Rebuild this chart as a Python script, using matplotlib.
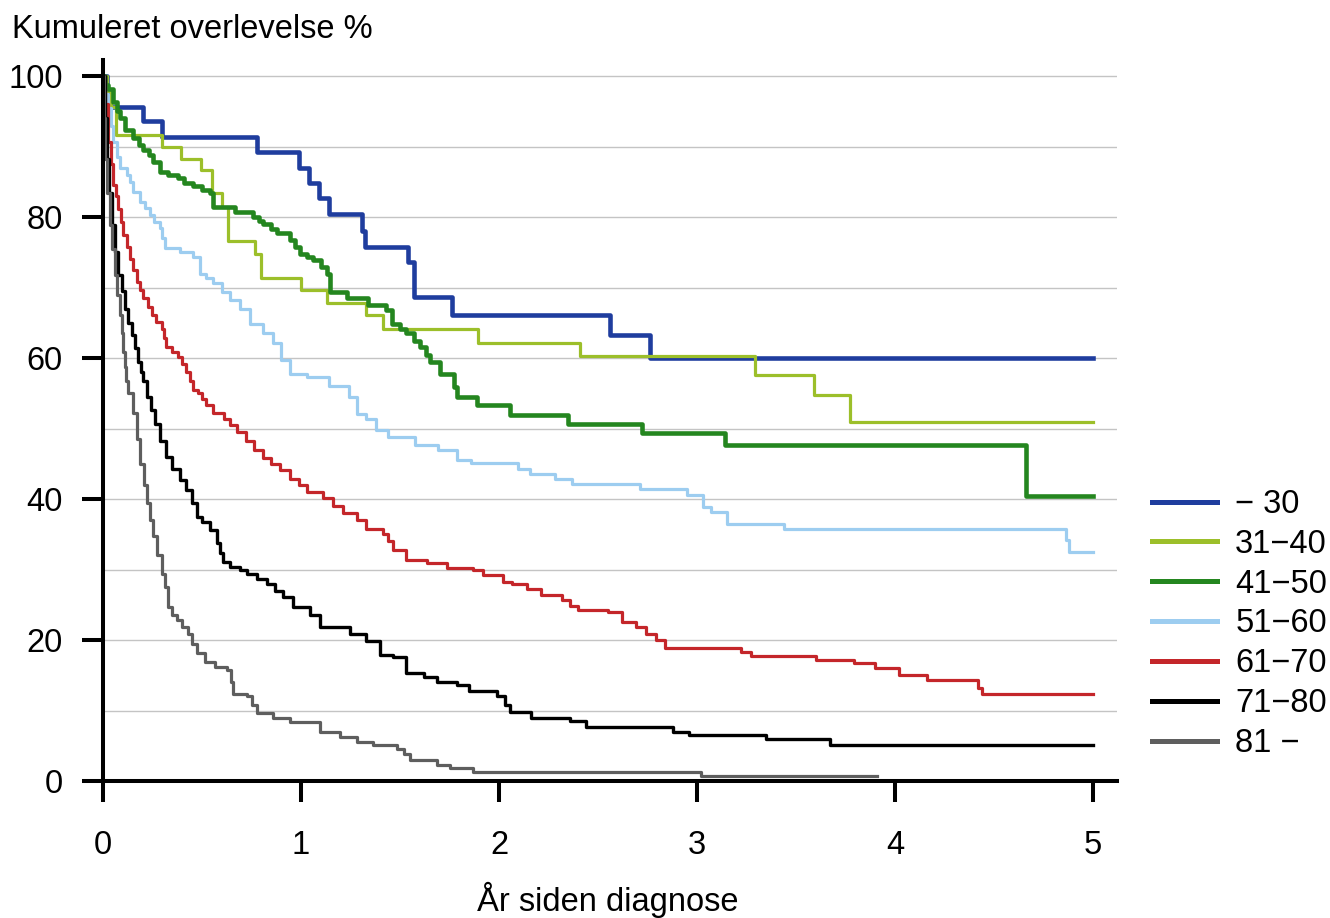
import matplotlib
matplotlib.use("Agg")
import matplotlib.pyplot as plt

plt.rcParams['font.family'] = ['Liberation Sans', 'DejaVu Sans']

# aldersgrupper og farver
labels = ["\u2212 30", "31\u221240", "41\u221250", "51\u221260", "61\u221270", "71\u221280", "81 \u2212"]
colors = ["#1f3d9e", "#9cbf2a", "#24861f", "#9dcdf0", "#c4262a", "#000000", "#5e5e5e"]
widths = [3.3, 2.3, 3.3, 2.3, 2.3, 2.4, 2.3]

# aflaest fra figuren: tid (aar) og kumuleret overlevelse (%)
t_30 = [0, 0.02, 0.20, 0.30, 0.78, 0.99, 1.04, 1.09, 1.14, 1.31, 1.325, 1.54, 1.57, 1.76, 2.56, 2.76, 5.0]
s_30 = [100, 95.7, 93.7, 91.4, 89.3, 87.0, 84.9, 82.7, 80.4, 78.1, 75.8, 73.7, 68.7, 66.1, 63.3, 60.0, 60.0]

t_40 = [0, 0.02, 0.04, 0.065, 0.296, 0.395, 0.497, 0.549, 0.60, 0.63, 0.768, 0.80, 0.998, 1.13, 1.33,
        1.415, 1.895, 2.41, 3.29, 3.59, 3.77, 5.0]
s_40 = [100, 97.9, 95.7, 91.6, 90.0, 88.3, 86.7, 83.4, 81.4, 76.6, 74.8, 71.3, 69.6, 67.8, 66.1,
        64.2, 62.2, 60.3, 57.6, 54.7, 51.0, 51.0]

t_50 = [0, 0.01, 0.027, 0.052, 0.07, 0.086, 0.111, 0.153, 0.18, 0.204, 0.23, 0.254, 0.288, 0.33, 0.38,
        0.41, 0.456, 0.5, 0.54, 0.557, 0.667, 0.759, 0.79, 0.81, 0.85, 0.877, 0.944, 0.97, 0.995,
        1.03, 1.062, 1.1, 1.13, 1.146, 1.23, 1.34, 1.43, 1.458, 1.5, 1.53, 1.57, 1.60, 1.63, 1.65,
        1.70, 1.77, 1.786, 1.887, 2.055, 2.35, 2.72, 3.14, 4.66, 5.0]
s_50 = [100, 98.8, 98.2, 96.3, 95.0, 94.0, 92.4, 91.2, 90.3, 89.5, 88.8, 87.8, 86.4, 86.0, 85.5,
        84.9, 84.4, 83.9, 83.4, 81.5, 80.8, 80.0, 79.5, 79.1, 78.3, 77.7, 76.7, 75.8, 74.8,
        74.4, 73.9, 73.0, 72.0, 69.4, 68.5, 67.5, 66.8, 64.9, 64.2, 63.5, 62.5, 61.6, 60.5, 59.5,
        57.7, 55.9, 54.5, 53.3, 51.9, 50.6, 49.4, 47.7, 40.4, 40.4]

t_60 = [0, 0.01, 0.027, 0.04, 0.052, 0.07, 0.086, 0.12, 0.136, 0.153, 0.187, 0.21, 0.237, 0.26,
        0.288, 0.30, 0.313, 0.389, 0.456, 0.49, 0.52, 0.557, 0.6, 0.64, 0.69, 0.74, 0.81, 0.86, 0.9,
        0.944, 1.03, 1.14, 1.24, 1.28, 1.33, 1.38, 1.44, 1.576, 1.69, 1.786, 1.86, 2.095, 2.154,
        2.28, 2.37, 2.71, 2.95, 3.03, 3.07, 3.15, 3.44, 4.86, 4.88, 5.0]
s_60 = [100, 97.5, 95.5, 93.0, 90.7, 88.5, 87.0, 86.0, 85.0, 83.6, 82.2, 81.3, 80.3, 79.3,
        78.4, 77.0, 75.6, 75.1, 74.4, 72.0, 71.4, 70.6, 69.4, 68.2, 67.0, 64.9, 63.5, 62.1, 59.7,
        57.8, 57.3, 56.0, 54.5, 52.1, 51.4, 49.8, 48.8, 47.7, 46.9, 45.5, 45.1, 44.3, 43.6,
        42.8, 42.1, 41.4, 40.6, 38.9, 38.2, 36.5, 35.7, 34.2, 32.5, 32.5]

t_70 = [0, 0.01, 0.027, 0.04, 0.052, 0.065, 0.077, 0.09, 0.103, 0.12, 0.136, 0.153, 0.17, 0.187,
        0.204, 0.225, 0.246, 0.27, 0.296, 0.31, 0.32, 0.35, 0.38, 0.40, 0.42, 0.44, 0.456, 0.48,
        0.5, 0.52, 0.557, 0.61, 0.64, 0.675, 0.72, 0.76, 0.81, 0.85, 0.894, 0.944, 0.99, 1.03,
        1.11, 1.16, 1.21, 1.28, 1.33, 1.416, 1.44, 1.466, 1.53, 1.635, 1.736, 1.87, 1.92, 2.02,
        2.065, 2.14, 2.21, 2.32, 2.36, 2.40, 2.55, 2.62, 2.69, 2.74, 2.79, 2.84, 3.22, 3.27, 3.6,
        3.79, 3.90, 4.02, 4.16, 4.42, 4.44, 5.0]
s_70 = [100, 96.0, 90.7, 87.5, 84.5, 83.0, 81.2, 79.3, 77.4, 75.8, 74.1, 72.5, 70.8, 69.6,
        68.5, 67.3, 66.1, 65.1, 64.2, 62.9, 61.6, 60.9, 60.2, 59.1, 58.0, 56.7, 55.5, 55.0,
        54.2, 53.3, 52.2, 51.4, 50.5, 49.5, 48.2, 46.9, 45.8, 45.0, 44.1, 42.9, 42.0, 41.0,
        40.1, 39.0, 38.0, 37.0, 35.8, 35.1, 34.0, 32.8, 31.3, 30.9, 30.2, 29.9, 29.2, 28.3,
        28.0, 27.3, 26.4, 25.7, 24.8, 24.3, 24.0, 22.6, 21.9, 20.9, 20.0, 18.8, 18.3, 17.7, 17.2,
        16.7, 16.1, 15.0, 14.4, 13.2, 12.4, 12.4]

t_80 = [0, 0.008, 0.019, 0.03, 0.044, 0.06, 0.077, 0.094, 0.111, 0.128, 0.145, 0.16, 0.178, 0.19,
        0.204, 0.22, 0.24, 0.263, 0.29, 0.32, 0.35, 0.389, 0.42, 0.448, 0.473, 0.5, 0.54, 0.574,
        0.59, 0.608, 0.64, 0.69, 0.726, 0.78, 0.827, 0.87, 0.91, 0.96, 1.045, 1.096, 1.247, 1.33,
        1.40, 1.466, 1.53, 1.62, 1.685, 1.786, 1.85, 1.99, 2.03, 2.056, 2.16, 2.36, 2.44, 2.88,
        2.96, 3.35, 3.67, 5.0]
s_80 = [100, 94.0, 88.3, 83.5, 78.9, 75.0, 71.8, 69.5, 67.0, 65.0, 63.3, 61.5, 59.5, 58.0,
        56.7, 54.5, 52.6, 50.7, 48.3, 46.0, 44.3, 42.7, 41.3, 39.4, 37.5, 36.8, 35.6, 33.7,
        32.3, 31.1, 30.4, 29.9, 29.4, 28.7, 28.0, 27.0, 26.1, 24.7, 23.5, 21.9, 20.9, 19.8,
        17.9, 17.6, 15.3, 14.8, 14.1, 13.6, 12.7, 12.0, 10.8, 9.8, 9.0, 8.5, 7.7, 7.0,
        6.5, 5.9, 5.1, 5.1]

t_81 = [0, 0.005, 0.01, 0.02, 0.035, 0.047, 0.06, 0.073, 0.086, 0.095, 0.103, 0.11, 0.116, 0.128,
        0.153, 0.17, 0.187, 0.205, 0.22, 0.237, 0.254, 0.275, 0.296, 0.313, 0.33, 0.35, 0.372,
        0.40, 0.43, 0.45, 0.473, 0.515, 0.566, 0.625, 0.645, 0.658, 0.726, 0.75, 0.776, 0.86,
        0.944, 1.096, 1.197, 1.28, 1.365, 1.483, 1.52, 1.55, 1.685, 1.75, 1.87, 3.02, 3.91]
s_81 = [100, 94.0, 88.3, 83.5, 78.9, 75.5, 71.8, 69.0, 66.1, 63.5, 60.9, 58.8, 56.7, 55.0,
        52.2, 48.5, 45.0, 42.0, 39.4, 37.0, 34.7, 32.0, 29.4, 27.5, 24.7, 23.6, 22.8,
        21.8, 20.9, 19.5, 18.1, 16.9, 16.2, 15.7, 14.0, 12.4, 12.0, 10.8, 9.6, 8.9,
        8.4, 7.0, 6.3, 5.6, 5.1, 4.6, 3.8, 3.0, 2.3, 1.8, 1.3, 0.7, 0.7]

tider = [t_30, t_40, t_50, t_60, t_70, t_80, t_81]
overlevelse = [s_30, s_40, s_50, s_60, s_70, s_80, s_81]

fs = 23.5

fig = plt.figure(figsize=(13.3, 9.18), dpi=100)
ax = fig.add_axes([103/1330, 1-781/918, (1117-103)/1330, (781-60)/918])

for t, s, c, lw, lab in zip(tider, overlevelse, colors, widths, labels):
    ax.step(t, s, where='post', color=c, lw=lw, label=lab)

ax.set_xlim(0, 5.12)
ax.set_ylim(0, 102.3)
ax.set_xticks(range(0, 6))
ax.set_yticks(range(0, 101, 20))
ax.set_yticks(range(10, 101, 10), minor=True)
ax.grid(axis='y', which='both', color='#c4c4c4', lw=1.0)
ax.set_axisbelow(True)

for side in ['top', 'right']:
    ax.spines[side].set_visible(False)
for side in ['left', 'bottom']:
    ax.spines[side].set_linewidth(2.9)
ax.tick_params(which='major', direction='out', length=15, width=2.9, labelsize=fs)
ax.tick_params(axis='y', which='major', pad=14)
ax.tick_params(axis='x', which='major', pad=20)
ax.tick_params(which='minor', length=0)

fig.text(12/1330, 1-30/918, "Kumuleret overlevelse %", fontsize=fs, ha='left', va='center')
fig.text(608/1330, 1-900/918, "\u00c5r siden diagnose", fontsize=fs, ha='center', va='center')

leg = fig.legend(loc='center left', bbox_to_anchor=(1152/1330, 1-624/918), frameon=False,
                 fontsize=fs, handlelength=2.0, handletextpad=0.55, labelspacing=0.27,
                 borderpad=0, borderaxespad=0)
for line in leg.get_lines():
    line.set_linewidth(3.6)

fig.savefig("out.png", dpi=100)
